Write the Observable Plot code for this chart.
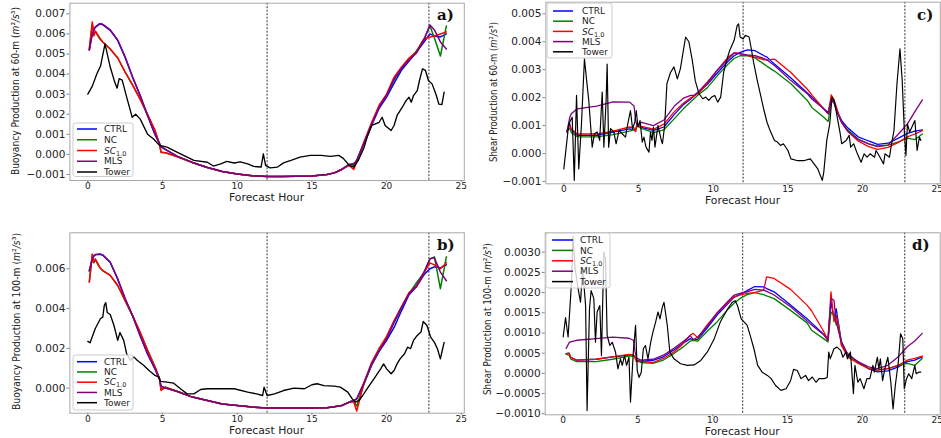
<!DOCTYPE html>
<html><head><meta charset="utf-8">
<script src="https://cdn.jsdelivr.net/npm/d3@7"></script>
<script src="https://cdn.jsdelivr.net/npm/@observablehq/plot@0.6"></script>
<style>
body{margin:0;background:#fff;}
#fig{position:relative;width:941px;height:438px;overflow:hidden;background:#fff;}
#fig svg{position:absolute;overflow:visible;}
</style></head>
<body><div id="fig"></div>
<script>
// ---------- shared ----------
const xTicks = [0, 5, 10, 15, 20, 25];
const eventHours = [12, 22.83];
const seriesNames = ["CTRL", "NC", "SC", "MLS", "Tower"];
const seriesSubs = ["", "", "1.0", "", ""];
const seriesColors = ["#0000ff", "#008000", "#ff0000", "#800080", "#000000"];

const yTicksA = [-0.001, 0, 0.001, 0.002, 0.003, 0.004, 0.005, 0.006, 0.007];
const yTicksB = [0, 0.002, 0.004, 0.006];
const yTicksC = [-0.001, 0, 0.001, 0.002, 0.003, 0.004, 0.005];
const yTicksD = [-0.001, -0.0005, 0, 0.0005, 0.001, 0.0015, 0.002, 0.0025, 0.003];

// ---------- model hours ----------
const hoursAB = [0.1, 0.3, 0.4, 0.5, 0.8, 1, 1.5, 2, 2.5, 3, 3.5, 4, 4.5, 4.8, 4.9, 5.2, 6, 7, 8, 9, 10, 11, 12, 13, 14, 15, 16, 16.5, 17, 17.5, 17.8, 18, 18.5, 19, 19.5, 20, 20.5, 21, 21.5, 22, 22.5, 22.9, 23.2, 23.6, 24];
const hoursCD = [0.2, 0.4, 0.5, 0.9, 2.2, 3.3, 4.4, 4.7, 4.8, 4.9, 5.2, 6, 6.7, 7.4, 8, 8.5, 8.7, 9, 9.6, 10.3, 11, 11.4, 11.8, 12.3, 12.8, 13.4, 13.6, 14.1, 15.2, 16.3, 16.6, 17.4, 17.7, 17.9, 18.1, 18.25, 18.4, 18.6, 19, 19.7, 20.4, 21, 21.7, 22.4, 23, 23.5, 24];

// ---------- panel a: buoyancy production 60 m ----------
const ctrlA = [5.2e-3, 6.0e-3, 6.2e-3, 6.33e-3, 6.5e-3, 6.46e-3, 6.18e-3, 5.68e-3, 4.83e-3, 3.83e-3, 2.93e-3, 1.93e-3, 0.98e-3, 0.53e-3, 0.38e-3, 0.24e-3, -0.1e-3, -0.4e-3, -0.65e-3, -0.85e-3, -0.98e-3, -1.06e-3, -1.1e-3, -1.1e-3, -1.09e-3, -1.07e-3, -1.0e-3, -0.92e-3, -0.74e-3, -0.5e-3, -0.5e-3, -0.3e-3, 0.55e-3, 1.45e-3, 2.3e-3, 2.85e-3, 3.55e-3, 4.2e-3, 4.65e-3, 5.1e-3, 5.6e-3, 6.0e-3, 5.9e-3, 5.85e-3, 6.0e-3];
const ncA = [5.3e-3, 6.5e-3, 6.0e-3, 6.1e-3, 5.75e-3, 5.6e-3, 5.25e-3, 4.8e-3, 4.1e-3, 3.45e-3, 2.75e-3, 1.95e-3, 1.15e-3, 0.5e-3, 0.12e-3, 0.08e-3, -0.12e-3, -0.4e-3, -0.65e-3, -0.85e-3, -0.98e-3, -1.06e-3, -1.1e-3, -1.1e-3, -1.09e-3, -1.07e-3, -1.0e-3, -0.92e-3, -0.75e-3, -0.5e-3, -0.55e-3, -0.3e-3, 0.6e-3, 1.5e-3, 2.4e-3, 2.95e-3, 3.7e-3, 4.3e-3, 4.75e-3, 5.15e-3, 5.75e-3, 6.4e-3, 5.8e-3, 4.9e-3, 6.4e-3];
const scA = [5.2e-3, 6.6e-3, 5.9e-3, 6.15e-3, 5.8e-3, 5.6e-3, 5.25e-3, 4.8e-3, 4.1e-3, 3.45e-3, 2.75e-3, 2.0e-3, 1.2e-3, 0.5e-3, 0.1e-3, 0.08e-3, -0.12e-3, -0.4e-3, -0.65e-3, -0.85e-3, -0.98e-3, -1.06e-3, -1.1e-3, -1.1e-3, -1.09e-3, -1.07e-3, -1.0e-3, -0.92e-3, -0.75e-3, -0.55e-3, -0.75e-3, -0.35e-3, 0.65e-3, 1.6e-3, 2.45e-3, 3.0e-3, 3.85e-3, 4.35e-3, 4.8e-3, 5.1e-3, 5.75e-3, 5.85e-3, 5.9e-3, 6.0e-3, 6.1e-3];
const mlsA = [5.2e-3, 6.0e-3, 6.2e-3, 6.35e-3, 6.52e-3, 6.48e-3, 6.2e-3, 5.7e-3, 4.85e-3, 3.85e-3, 2.95e-3, 1.95e-3, 1.0e-3, 0.55e-3, 0.4e-3, 0.25e-3, -0.1e-3, -0.4e-3, -0.65e-3, -0.85e-3, -0.98e-3, -1.06e-3, -1.1e-3, -1.1e-3, -1.09e-3, -1.07e-3, -1.0e-3, -0.92e-3, -0.75e-3, -0.5e-3, -0.45e-3, -0.3e-3, 0.6e-3, 1.5e-3, 2.35e-3, 2.95e-3, 3.75e-3, 4.3e-3, 4.7e-3, 5.05e-3, 5.7e-3, 6.45e-3, 6.2e-3, 5.6e-3, 5.25e-3];
const towerHoursA = [0, 0.3, 0.6, 0.85, 1.15, 1.5, 1.8, 1.96, 2.1, 2.3, 2.6, 2.97, 3.2, 3.5, 4.0, 4.4, 4.8, 5.3, 6.2, 7.1, 8.0, 8.4, 8.9, 9.3, 9.8, 10.2, 10.7, 11.1, 11.6, 11.75, 11.9, 12.2, 12.7, 13.1, 13.6, 14.2, 14.9, 15.6, 16.25, 16.8, 17.1, 17.5, 17.8, 18.1, 18.5, 18.7, 19.0, 19.5, 19.7, 19.9, 20.3, 20.5, 20.7, 21.05, 21.3, 21.5, 21.65, 21.8, 22.05, 22.2, 22.4, 22.6, 22.8, 23.05, 23.3, 23.5, 23.7, 23.85];
const towerA = [3.0e-3, 3.4e-3, 4.0e-3, 4.4e-3, 5.5e-3, 4.35e-3, 3.6e-3, 3.3e-3, 3.77e-3, 3.7e-3, 2.85e-3, 1.85e-3, 2.0e-3, 1.77e-3, 1.0e-3, 0.77e-3, 0.45e-3, 0.36e-3, 0.03e-3, -0.3e-3, -0.39e-3, -0.58e-3, -0.47e-3, -0.35e-3, -0.43e-3, -0.37e-3, -0.47e-3, -0.6e-3, -0.63e-3, 0.03e-3, -0.55e-3, -0.67e-3, -0.63e-3, -0.42e-3, -0.3e-3, -0.14e-3, -0.05e-3, -0.05e-3, -0.1e-3, -0.05e-3, -0.2e-3, -0.55e-3, -0.63e-3, -0.3e-3, 0.36e-3, 0.86e-3, 1.44e-3, 1.6e-3, 1.85e-3, 1.44e-3, 1.19e-3, 1.44e-3, 1.94e-3, 2.35e-3, 2.68e-3, 2.85e-3, 2.6e-3, 2.93e-3, 3.18e-3, 3.68e-3, 4.26e-3, 4.18e-3, 3.68e-3, 3.5e-3, 3.0e-3, 2.5e-3, 2.48e-3, 3.1e-3];

// ---------- panel b: buoyancy production 100 m ----------
const ctrlB = [5.9e-3, 6.48e-3, 6.63e-3, 6.7e-3, 6.73e-3, 6.68e-3, 6.32e-3, 5.48e-3, 4.48e-3, 3.63e-3, 2.63e-3, 1.71e-3, 0.95e-3, 0.45e-3, 0.1e-3, 0.0, -0.17e-3, -0.45e-3, -0.62e-3, -0.8e-3, -0.87e-3, -0.95e-3, -1.0e-3, -1.0e-3, -1.0e-3, -1.0e-3, -0.98e-3, -0.94e-3, -0.87e-3, -0.7e-3, -0.62e-3, -0.54e-3, 0.25e-3, 1.15e-3, 1.85e-3, 2.4e-3, 3.05e-3, 3.9e-3, 4.7e-3, 5.1e-3, 5.7e-3, 6.0e-3, 6.1e-3, 6.05e-3, 6.2e-3];
const ncB = [5.35e-3, 6.7e-3, 6.3e-3, 6.45e-3, 6.05e-3, 5.9e-3, 5.67e-3, 5.16e-3, 4.4e-3, 3.6e-3, 2.8e-3, 1.9e-3, 1.06e-3, 0.47e-3, -0.05e-3, 0.05e-3, -0.17e-3, -0.45e-3, -0.62e-3, -0.8e-3, -0.87e-3, -0.95e-3, -1.0e-3, -1.0e-3, -1.0e-3, -1.0e-3, -0.98e-3, -0.94e-3, -0.87e-3, -0.7e-3, -0.65e-3, -0.9e-3, 0.25e-3, 1.2e-3, 1.9e-3, 2.5e-3, 3.3e-3, 4.05e-3, 4.75e-3, 5.3e-3, 5.8e-3, 6.5e-3, 6.6e-3, 5.0e-3, 6.6e-3];
const scB = [5.33e-3, 6.75e-3, 6.33e-3, 6.5e-3, 6.08e-3, 5.92e-3, 5.67e-3, 5.16e-3, 4.4e-3, 3.65e-3, 2.82e-3, 1.9e-3, 1.06e-3, 0.47e-3, -0.12e-3, 0.05e-3, -0.17e-3, -0.45e-3, -0.62e-3, -0.8e-3, -0.87e-3, -0.95e-3, -1.0e-3, -1.0e-3, -1.0e-3, -1.0e-3, -0.98e-3, -0.94e-3, -0.87e-3, -0.7e-3, -0.7e-3, -1.15e-3, 0.3e-3, 1.3e-3, 2.0e-3, 2.6e-3, 3.4e-3, 4.1e-3, 4.8e-3, 5.1e-3, 5.8e-3, 6.3e-3, 6.2e-3, 6.0e-3, 6.3e-3];
const mlsB = [5.9e-3, 6.5e-3, 6.65e-3, 6.72e-3, 6.75e-3, 6.7e-3, 6.34e-3, 5.5e-3, 4.5e-3, 3.65e-3, 2.65e-3, 1.73e-3, 0.97e-3, 0.47e-3, 0.1e-3, 0.0, -0.17e-3, -0.45e-3, -0.62e-3, -0.8e-3, -0.87e-3, -0.95e-3, -1.0e-3, -1.0e-3, -1.0e-3, -1.0e-3, -0.98e-3, -0.94e-3, -0.87e-3, -0.7e-3, -0.62e-3, -0.54e-3, 0.3e-3, 1.22e-3, 1.9e-3, 2.48e-3, 3.32e-3, 4.07e-3, 4.74e-3, 5.16e-3, 5.83e-3, 6.5e-3, 6.55e-3, 5.83e-3, 5.4e-3];
const towerHoursB = [0, 0.15, 0.5, 0.85, 1.0, 1.1, 1.2, 1.3, 1.5, 1.75, 2.0, 2.15, 2.4, 2.6, 2.85, 3.1, 3.3, 3.75, 4.1, 4.5, 4.75, 4.85, 5.3, 5.75, 6.2, 6.65, 7.1, 7.55, 8.0, 8.9, 9.8, 10.7, 11.3, 11.7, 11.8, 12.0, 12.5, 13.1, 13.8, 14.5, 15.0, 15.35, 15.8, 16.5, 16.9, 17.4, 17.7, 17.9, 18.15, 18.4, 18.7, 19.15, 19.6, 19.8, 20.0, 20.3, 20.5, 20.7, 20.9, 21.2, 21.4, 21.6, 21.8, 22.05, 22.3, 22.45, 22.7, 22.95, 23.2, 23.4, 23.6, 23.75, 23.85];
const towerB = [2.35e-3, 2.28e-3, 3.0e-3, 3.5e-3, 3.57e-3, 4.15e-3, 4.3e-3, 3.8e-3, 3.7e-3, 3.15e-3, 2.4e-3, 2.8e-3, 2.4e-3, 1.73e-3, 1.4e-3, 1.56e-3, 1.4e-3, 1.14e-3, 0.89e-3, 0.64e-3, 0.55e-3, 0.34e-3, 0.3e-3, 0.25e-3, -0.03e-3, -0.29e-3, -0.29e-3, -0.07e-3, -0.03e-3, -0.03e-3, -0.03e-3, -0.2e-3, -0.29e-3, -0.37e-3, 0.05e-3, -0.37e-3, -0.29e-3, -0.12e-3, 0.0, -0.03e-3, 0.17e-3, 0.22e-3, 0.13e-3, 0.1e-3, 0.05e-3, -0.2e-3, -0.54e-3, -0.7e-3, -0.62e-3, -0.37e-3, -0.03e-3, 0.47e-3, 0.97e-3, 1.22e-3, 0.97e-3, 0.72e-3, 0.89e-3, 1.22e-3, 1.47e-3, 1.73e-3, 2.06e-3, 1.98e-3, 2.4e-3, 2.65e-3, 2.82e-3, 3.35e-3, 3.15e-3, 2.56e-3, 2.3e-3, 1.98e-3, 1.47e-3, 1.98e-3, 2.3e-3];

// ---------- panel c: shear production 60 m ----------
const ctrlC = [0.77e-3, 1.06e-3, 0.85e-3, 0.65e-3, 0.65e-3, 0.77e-3, 0.88e-3, 0.85e-3, 0.8e-3, 1.06e-3, 0.94e-3, 0.83e-3, 0.95e-3, 1.4e-3, 1.75e-3, 1.95e-3, 2.05e-3, 2.2e-3, 2.47e-3, 2.9e-3, 3.3e-3, 3.5e-3, 3.62e-3, 3.71e-3, 3.68e-3, 3.5e-3, 3.45e-3, 3.2e-3, 2.7e-3, 2.17e-3, 2.02e-3, 1.6e-3, 1.48e-3, 1.95e-3, 1.84e-3, 1.6e-3, 1.4e-3, 1.18e-3, 0.92e-3, 0.6e-3, 0.45e-3, 0.33e-3, 0.37e-3, 0.55e-3, 0.72e-3, 0.8e-3, 0.85e-3];
const ncC = [0.8e-3, 0.9e-3, 0.75e-3, 0.6e-3, 0.6e-3, 0.68e-3, 0.8e-3, 0.85e-3, 0.85e-3, 1.0e-3, 0.9e-3, 0.75e-3, 0.85e-3, 1.25e-3, 1.6e-3, 1.85e-3, 1.95e-3, 2.1e-3, 2.35e-3, 2.8e-3, 3.2e-3, 3.4e-3, 3.5e-3, 3.5e-3, 3.42e-3, 3.2e-3, 3.12e-3, 2.95e-3, 2.5e-3, 1.9e-3, 1.65e-3, 1.3e-3, 1.15e-3, 1.9e-3, 1.8e-3, 1.55e-3, 1.35e-3, 1.1e-3, 0.85e-3, 0.52e-3, 0.35e-3, 0.27e-3, 0.3e-3, 0.42e-3, 0.55e-3, 0.5e-3, 0.7e-3];
const scC = [0.8e-3, 1.0e-3, 0.88e-3, 0.7e-3, 0.7e-3, 0.8e-3, 0.95e-3, 0.92e-3, 0.78e-3, 1.05e-3, 0.97e-3, 0.87e-3, 1.05e-3, 1.5e-3, 1.8e-3, 2.0e-3, 2.05e-3, 2.15e-3, 2.5e-3, 3.0e-3, 3.45e-3, 3.6e-3, 3.58e-3, 3.5e-3, 3.45e-3, 3.35e-3, 3.35e-3, 3.38e-3, 2.9e-3, 2.3e-3, 2.1e-3, 1.6e-3, 1.42e-3, 2.1e-3, 1.9e-3, 1.65e-3, 1.4e-3, 1.1e-3, 0.8e-3, 0.45e-3, 0.25e-3, 0.15e-3, 0.22e-3, 0.4e-3, 0.6e-3, 0.7e-3, 0.82e-3];
const mlsC = [0.77e-3, 1.3e-3, 1.42e-3, 1.6e-3, 1.7e-3, 1.85e-3, 1.84e-3, 1.7e-3, 1.2e-3, 1.0e-3, 1.12e-3, 1.0e-3, 1.2e-3, 1.7e-3, 1.98e-3, 2.08e-3, 2.08e-3, 2.2e-3, 2.55e-3, 3.0e-3, 3.38e-3, 3.6e-3, 3.57e-3, 3.53e-3, 3.5e-3, 3.4e-3, 3.35e-3, 3.15e-3, 2.61e-3, 2.14e-3, 1.95e-3, 1.6e-3, 1.42e-3, 1.95e-3, 1.8e-3, 1.55e-3, 1.35e-3, 1.12e-3, 0.8e-3, 0.5e-3, 0.35e-3, 0.25e-3, 0.3e-3, 0.7e-3, 1.06e-3, 1.5e-3, 1.92e-3];
const towerHoursC = [0, 0.33, 0.56, 0.7, 0.85, 1.0, 1.18, 1.38, 1.56, 1.67, 1.9, 2.05, 2.23, 2.4, 2.57, 2.68, 2.83, 2.9, 3.0, 3.13, 3.35, 3.5, 3.7, 3.9, 4.13, 4.24, 4.46, 4.6, 4.75, 4.85, 4.96, 5.1, 5.25, 5.36, 5.5, 5.7, 5.8, 5.9, 6.0, 6.1, 6.3, 6.5, 6.6, 6.75, 6.9, 7.14, 7.37, 7.6, 7.8, 8.15, 8.37, 8.6, 8.8, 9.05, 9.3, 9.5, 9.7, 9.9, 10.1, 10.3, 10.5, 10.7, 10.9, 11.1, 11.4, 11.6, 11.7, 11.8, 12.0, 12.15, 12.4, 12.55, 12.7, 12.95, 13.2, 13.4, 13.6, 13.8, 14.1, 14.3, 14.5, 14.7, 15.0, 15.2, 15.6, 16.1, 16.5, 17.0, 17.3, 17.4, 17.6, 17.8, 17.95, 18.1, 18.3, 18.5, 18.6, 18.9, 19.1, 19.2, 19.4, 19.65, 19.9, 20.1, 20.3, 20.5, 20.8, 20.9, 21.1, 21.4, 21.5, 21.8, 21.9, 22.1, 22.3, 22.5, 22.65, 22.8, 22.9, 23.0, 23.15, 23.3, 23.5, 23.65, 23.8, 23.9];
const towerC = [-0.55e-3, 1.06e-3, 1.3e-3, -0.96e-3, 2.08e-3, -0.55e-3, 1.06e-3, 3.39e-3, 2.44e-3, 1.9e-3, 0.23e-3, 0.71e-3, 0.77e-3, 0.47e-3, 2.2e-3, 0.23e-3, 1.9e-3, 3.2e-3, 0.23e-3, 0.89e-3, 0.77e-3, 0.35e-3, 0.83e-3, 0.71e-3, 0.59e-3, 0.95e-3, 1.54e-3, 0.89e-3, 1.12e-3, 1.54e-3, 0.95e-3, 1.18e-3, 0.41e-3, 0.59e-3, 0.23e-3, 0.05e-3, 0.77e-3, 0.47e-3, 0.95e-3, 0.23e-3, 1.0e-3, 0.53e-3, 0.35e-3, 1.0e-3, 2.5e-3, 2.9e-3, 3.1e-3, 2.67e-3, 3.03e-3, 4.17e-3, 4.0e-3, 3.33e-3, 2.6e-3, 2.14e-3, 1.96e-3, 2.02e-3, 1.9e-3, 2.02e-3, 2.08e-3, 1.84e-3, 2.02e-3, 2.91e-3, 3.33e-3, 3.69e-3, 4.05e-3, 4.58e-3, 4.64e-3, 4.17e-3, 4.1e-3, 4.23e-3, 4.17e-3, 3.75e-3, 3.27e-3, 2.61e-3, 2.02e-3, 1.54e-3, 1.12e-3, 0.83e-3, 0.47e-3, 0.41e-3, 0.29e-3, 0.35e-3, 0.11e-3, -0.19e-3, -0.25e-3, -0.25e-3, -0.19e-3, -0.55e-3, -0.96e-3, -0.67e-3, 0.47e-3, 1.06e-3, 2.02e-3, 1.9e-3, 1.3e-3, 0.71e-3, 0.35e-3, 0.47e-3, 0.65e-3, 0.23e-3, 0.35e-3, -0.01e-3, -0.31e-3, -0.01e-3, -0.13e-3, -0.01e-3, -0.13e-3, 0.11e-3, -0.07e-3, -0.37e-3, -0.01e-3, -0.13e-3, 0.23e-3, 0.83e-3, 2.5e-3, 3.75e-3, 2.61e-3, 0.71e-3, -0.07e-3, 1.06e-3, 0.77e-3, 0.95e-3, 1.18e-3, 0.11e-3, 0.59e-3, 0.47e-3];

// ---------- panel d: shear production 100 m ----------
const ctrlD = [0.49e-3, 0.5e-3, 0.4e-3, 0.33e-3, 0.35e-3, 0.41e-3, 0.45e-3, 0.45e-3, 0.4e-3, 0.33e-3, 0.3e-3, 0.32e-3, 0.41e-3, 0.58e-3, 0.74e-3, 0.86e-3, 0.82e-3, 0.85e-3, 1.11e-3, 1.45e-3, 1.72e-3, 1.88e-3, 1.95e-3, 2.05e-3, 2.15e-3, 2.14e-3, 2.1e-3, 2.02e-3, 1.69e-3, 1.35e-3, 1.25e-3, 0.97e-3, 0.86e-3, 1.77e-3, 1.36e-3, 1.6e-3, 1.23e-3, 0.78e-3, 0.45e-3, 0.29e-3, 0.12e-3, 0.04e-3, 0.06e-3, 0.16e-3, 0.29e-3, 0.33e-3, 0.41e-3];
const ncD = [0.47e-3, 0.45e-3, 0.36e-3, 0.29e-3, 0.29e-3, 0.35e-3, 0.43e-3, 0.43e-3, 0.4e-3, 0.33e-3, 0.27e-3, 0.25e-3, 0.33e-3, 0.49e-3, 0.65e-3, 0.8e-3, 0.82e-3, 0.8e-3, 1.03e-3, 1.28e-3, 1.58e-3, 1.73e-3, 1.85e-3, 1.95e-3, 2.0e-3, 1.95e-3, 1.92e-3, 1.85e-3, 1.56e-3, 1.25e-3, 1.07e-3, 0.86e-3, 0.78e-3, 1.52e-3, 1.44e-3, 1.2e-3, 1.23e-3, 0.7e-3, 0.49e-3, 0.25e-3, 0.12e-3, 0.08e-3, 0.12e-3, 0.2e-3, 0.25e-3, 0.2e-3, 0.37e-3];
const scD = [0.49e-3, 0.5e-3, 0.4e-3, 0.33e-3, 0.35e-3, 0.41e-3, 0.47e-3, 0.46e-3, 0.38e-3, 0.29e-3, 0.3e-3, 0.27e-3, 0.37e-3, 0.53e-3, 0.73e-3, 0.95e-3, 0.99e-3, 0.88e-3, 1.19e-3, 1.5e-3, 1.75e-3, 1.89e-3, 1.94e-3, 1.98e-3, 2.0e-3, 2.06e-3, 2.39e-3, 2.35e-3, 2.08e-3, 1.69e-3, 1.55e-3, 1.05e-3, 0.82e-3, 2.02e-3, 1.28e-3, 1.44e-3, 1.15e-3, 0.7e-3, 0.41e-3, 0.25e-3, 0.12e-3, 0.08e-3, 0.12e-3, 0.2e-3, 0.33e-3, 0.37e-3, 0.43e-3];
const mlsD = [0.62e-3, 0.76e-3, 0.78e-3, 0.82e-3, 0.86e-3, 0.9e-3, 0.87e-3, 0.82e-3, 0.55e-3, 0.38e-3, 0.33e-3, 0.35e-3, 0.45e-3, 0.62e-3, 0.78e-3, 0.93e-3, 0.84e-3, 0.9e-3, 1.15e-3, 1.5e-3, 1.78e-3, 1.93e-3, 1.98e-3, 2.02e-3, 2.08e-3, 2.06e-3, 2.03e-3, 1.94e-3, 1.65e-3, 1.3e-3, 1.2e-3, 0.96e-3, 0.82e-3, 1.85e-3, 1.81e-3, 1.28e-3, 1.05e-3, 0.78e-3, 0.49e-3, 0.29e-3, 0.16e-3, 0.12e-3, 0.2e-3, 0.41e-3, 0.66e-3, 0.8e-3, 0.99e-3];
const towerHoursD = [0, 0.16, 0.33, 0.56, 0.65, 0.8, 1.0, 1.16, 1.3, 1.5, 1.6, 1.76, 1.87, 2.05, 2.16, 2.27, 2.45, 2.56, 2.72, 2.83, 2.94, 3.12, 3.28, 3.5, 3.66, 3.83, 3.95, 4.1, 4.24, 4.4, 4.5, 4.69, 4.84, 4.95, 5.07, 5.22, 5.36, 5.5, 5.67, 5.85, 6.0, 6.18, 6.34, 6.47, 6.63, 6.74, 6.96, 7.13, 7.4, 7.85, 8.3, 8.75, 9.2, 9.64, 10.1, 10.5, 11.0, 11.3, 11.5, 11.65, 11.9, 12.1, 12.3, 12.5, 12.75, 13.0, 13.3, 13.65, 13.9, 14.2, 14.55, 14.9, 15.2, 15.4, 15.65, 15.9, 16.2, 16.4, 16.65, 16.9, 17.1, 17.45, 17.65, 17.75, 17.85, 18.1, 18.3, 18.55, 18.7, 18.9, 19.0, 19.2, 19.4, 19.5, 19.7, 19.85, 20.1, 20.3, 20.5, 20.7, 20.8, 21.0, 21.1, 21.2, 21.35, 21.5, 21.7, 21.9, 22.05, 22.2, 22.4, 22.55, 22.7, 22.8, 22.95, 23.1, 23.3, 23.5, 23.6, 23.75, 23.9];
const towerD = [0.9e-3, 1.38e-3, 0.9e-3, 2.27e-3, 3.4e-3, 2.6e-3, 2.1e-3, 1.76e-3, 2.6e-3, 1.68e-3, -0.92e-3, 1.6e-3, 2.05e-3, 1.85e-3, 0.77e-3, 1.52e-3, 1.68e-3, 0.44e-3, 3.0e-3, 2.83e-3, 0.94e-3, 0.69e-3, 0.77e-3, 0.53e-3, 0.11e-3, 0.36e-3, 0.2e-3, 0.44e-3, 0.2e-3, 0.4e-3, -0.71e-3, 0.53e-3, 1.19e-3, 0.07e-3, -0.1e-3, 0.03e-3, 0.61e-3, 0.69e-3, 0.36e-3, 0.77e-3, 1.02e-3, 1.27e-3, 1.52e-3, 1.35e-3, 1.64e-3, 1.76e-3, 1.19e-3, 0.53e-3, 0.36e-3, 0.24e-3, 0.2e-3, 0.21e-3, 0.32e-3, 0.53e-3, 0.86e-3, 1.27e-3, 1.6e-3, 1.76e-3, 1.8e-3, 1.68e-3, 1.35e-3, 1.27e-3, 1.19e-3, 0.94e-3, 0.61e-3, 0.2e-3, 0.03e-3, -0.05e-3, -0.13e-3, -0.3e-3, -0.42e-3, -0.38e-3, -0.18e-3, 0.1e-3, 0.07e-3, -0.13e-3, -0.05e-3, -0.18e-3, -0.09e-3, -0.22e-3, -0.13e-3, -0.13e-3, -0.1e-3, 0.53e-3, 0.36e-3, 0.61e-3, 0.65e-3, 0.57e-3, 0.4e-3, 0.53e-3, 0.36e-3, 0.53e-3, -0.5e-3, 0.2e-3, -0.22e-3, -0.13e-3, -0.38e-3, -0.13e-3, -0.13e-3, 0.2e-3, 0.03e-3, 0.4e-3, 0.11e-3, 0.36e-3, -0.18e-3, 0.11e-3, 0.4e-3, -0.22e-3, -0.88e-3, -0.3e-3, 0.28e-3, 0.98e-3, 0.86e-3, -0.38e-3, -0.13e-3, -0.01e-3, -0.13e-3, 0.2e-3, -0.01e-3, 0.03e-3, 0.03e-3];

// ---------- layout (positions & styles, separate from data) ----------
const panels = [
  {key: "a", left: 0, top: 0, width: 470, height: 225, margin: [2.7, 6.2, 45, 69.4],
   yDomain: [-0.0013, 0.00753], yTicks: yTicksA, yFormat: ".3f",
   hours: hoursAB, models: [ctrlA, ncA, scA, mlsA], towerHours: towerHoursA, tower: towerA,
   ylabel: "Buoyancy Production at 60-m", ylabelX: 15, ylabelY: 91, ylabelLen: 168,
   xlabelY: 201, letterX: 437, letterY: 19.5, lw: 1.5,
   legend: {x: 73, y: 123, w: 60, h: 53.5, row0: 129, step: 10.75, l0: 77, l1: 97, tx: 104}},
  {key: "b", left: 0, top: 225, width: 470, height: 213, margin: [7.3, 6.2, 25.3, 69.4],
   yDomain: [-0.00126, 0.00781], yTicks: yTicksB, yFormat: ".3f",
   hours: hoursAB, models: [ctrlB, ncB, scB, mlsB], towerHours: towerHoursB, tower: towerB,
   ylabel: "Buoyancy Production at 100-m", ylabelX: 16, ylabelY: 96.5, ylabelLen: 177,
   xlabelY: 208.7, letterX: 437, letterY: 24.5, lw: 1.5,
   legend: {x: 73, y: 130, w: 60, h: 55, row0: 136.7, step: 10.25, l0: 77, l1: 97, tx: 104}},
  {key: "c", left: 470, top: 0, width: 471, height: 225, margin: [1.7, 1.2, 41.7, 75.4],
   yDomain: [-0.001082, 0.005415], yTicks: yTicksC, yFormat: ".3f",
   hours: hoursCD, models: [ctrlC, ncC, scC, mlsC], towerHours: towerHoursC, tower: towerC,
   ylabel: "Shear Production at 60-m", ylabelX: 23, ylabelY: 92, ylabelLen: 140,
   xlabelY: 204.3, letterX: 447, letterY: 19.5, lw: 1.3,
   legend: {x: 77, y: 3, w: 65, h: 55, row0: 11, step: 10.2, l0: 83, l1: 103, tx: 112}},
  {key: "d", left: 470, top: 225, width: 471, height: 213, margin: [7.3, 1.3, 23.7, 74.7],
   yDomain: [-0.001025, 0.00348], yTicks: yTicksD, yFormat: ".4f",
   hours: hoursCD, models: [ctrlD, ncD, scD, mlsD], towerHours: towerHoursD, tower: towerD,
   ylabel: "Shear Production at 100-m", ylabelX: 17.5, ylabelY: 94, ylabelLen: 152,
   xlabelY: 210.3, letterX: 442, letterY: 24.5, lw: 1.3,
   legend: {x: 76, y: 8, w: 64, h: 55, row0: 15, step: 10.4, l0: 82, l1: 103, tx: 110}}
];

function rows(hours, vals) { return hours.map((h, i) => ({hour: h, value: vals[i]})); }

function decorate(svg, p) {
  const fx0 = p.margin[3], fx1 = p.width - p.margin[1];
  // y label
  const yl = svg.append("text")
    .attr("transform", `translate(${p.ylabelX},${p.ylabelY}) rotate(-90)`)
    .attr("text-anchor", "middle").attr("dy", "0.35em")
    .attr("font-family", "'DejaVu Sans', sans-serif").attr("font-size", 11).attr("fill", "#222")
    .attr("textLength", p.ylabelLen).attr("lengthAdjust", "spacingAndGlyphs");
  yl.append("tspan").text(p.ylabel + " (");
  yl.append("tspan").attr("font-style", "italic").text("m");
  yl.append("tspan").text("²");
  yl.append("tspan").attr("font-style", "italic").text("/s");
  yl.append("tspan").text("³");
  yl.append("tspan").text(")");
  // x label
  svg.append("text").attr("x", (fx0 + fx1) / 2).attr("y", p.xlabelY)
    .attr("text-anchor", "middle").attr("font-family", "'DejaVu Sans', sans-serif")
    .attr("font-size", 10.8).attr("fill", "#222").text("Forecast Hour");
  // panel letter
  svg.append("text").attr("x", p.letterX).attr("y", p.letterY)
    .attr("text-anchor", "start")
    .attr("font-family", "'DejaVu Serif', serif").attr("font-weight", "bold")
    .attr("font-size", 15).attr("fill", "#111").text(p.key + ")");
  // legend
  const L = p.legend;
  const g = svg.append("g").attr("text-anchor", "start");
  g.append("rect").attr("x", L.x).attr("y", L.y).attr("width", L.w).attr("height", L.h)
    .attr("rx", 2.5).attr("fill", "#fff").attr("fill-opacity", 0.8).attr("stroke", "#cccccc").attr("stroke-width", 1);
  seriesNames.forEach((name, i) => {
    const y = L.row0 + i * L.step;
    g.append("line").attr("x1", L.l0).attr("x2", L.l1).attr("y1", y).attr("y2", y)
      .attr("stroke", seriesColors[i]).attr("stroke-width", 1.5);
    const t = g.append("text").attr("x", L.tx).attr("y", y + 3.2).attr("text-anchor", "start")
      .attr("font-family", "'DejaVu Sans', sans-serif").attr("font-size", 9).attr("fill", "#222");
    if (seriesSubs[i]) {
      t.append("tspan").attr("font-style", "italic").text(name);
      t.append("tspan").attr("font-size", 6.5).attr("dy", 2).text(seriesSubs[i]);
    } else {
      t.text(name);
    }
  });
}

const fig = document.getElementById("fig");
for (const p of panels) {
  const modelMarks = p.models.map((vals, i) => Plot.line(rows(p.hours, vals), {
    x: "hour", y: "value", stroke: seriesColors[i], strokeWidth: p.lw, clip: true
  }));
  const el = Plot.plot({
    width: p.width, height: p.height,
    marginTop: p.margin[0], marginRight: p.margin[1], marginBottom: p.margin[2], marginLeft: p.margin[3],
    x: {domain: [-1.2, 25.2]},
    y: {domain: p.yDomain},
    style: {fontFamily: "'DejaVu Sans', sans-serif", background: "transparent", overflow: "visible", color: "#222"},
    marks: [
      Plot.ruleX(eventHours, {stroke: "#333", strokeWidth: 1, strokeDasharray: "2,1.5"}),
      ...modelMarks,
      Plot.line(rows(p.towerHours, p.tower), {x: "hour", y: "value", stroke: seriesColors[4], strokeWidth: p.lw * 0.9, clip: true}),
      Plot.frame({stroke: "#a8a8a8", strokeWidth: 1}),
      Plot.axisX({ticks: xTicks, tickSize: 2, tickPadding: 0, fontSize: 9, stroke: "#888", fill: "#222", label: null}),
      Plot.axisY({ticks: p.yTicks, tickFormat: p.yFormat, tickSize: 3, tickPadding: 1.5, fontSize: 10.5, stroke: "#888", fill: "#222", label: null})
    ]
  });
  el.style.position = "absolute";
  el.style.left = p.left + "px";
  el.style.top = p.top + "px";
  fig.appendChild(el);
  decorate(d3.select(el), p);
}
</script>
</body></html>
